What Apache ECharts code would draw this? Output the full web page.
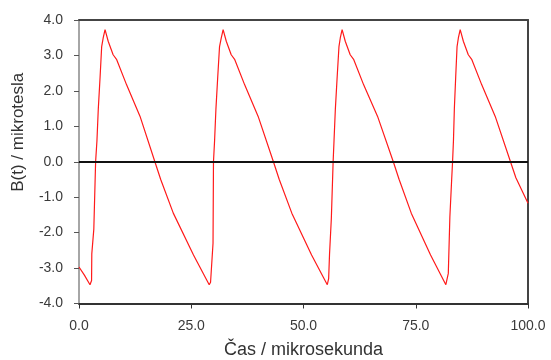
<!DOCTYPE html>
<html>
<head>
<meta charset="utf-8">
<script src="https://cdn.jsdelivr.net/npm/echarts@6/dist/echarts.min.js"></script>
<style>
	html, body { margin: 0; padding: 0; background: #fff; }
	#main { width: 551px; height: 360px; }
</style>
</head>
<body>
<div id="main"></div>
<script>
// cas v mikrosekundach
var time = [
	0, 1.2, 2.45,
	2.8, 2.85, 3.3, 3.7, 4.0, 4.3, 4.7, 5.05, 5.4, 5.8,
	6.5, 7.6, 8.4, 10.6, 13.6, 16.9, 18.2, 21.0, 25.5, 29.0,
	29.3, 29.85, 29.95, 30.2, 30.5, 30.9, 31.3, 31.7, 32.1,
	32.8, 33.9, 34.7, 36.9, 39.9, 43.3, 44.6, 47.4, 51.8, 55.3,
	55.6, 55.8, 56.2, 56.6, 56.8, 57.1, 57.5, 57.9, 58.2, 58.6,
	59.3, 60.4, 61.2, 63.4, 66.5, 70.0, 71.3, 74.0, 78.3, 81.7,
	82.25, 82.6, 83.0, 83.2, 83.4, 83.6, 83.9, 84.2, 84.5, 84.9,
	85.6, 86.7, 87.5, 89.7, 92.7, 96.1, 97.3, 100
];
// B(t) v mikrotesla
var field = [
	-2.97, -3.2, -3.47,
	-3.35, -2.6, -1.9, 0, 0.6, 1.5, 2.4, 3.25, 3.5, 3.73,
	3.40, 3.02, 2.88, 2.17, 1.28, 0, -0.5, -1.45, -2.63, -3.47,
	-3.4, -2.3, 0, 0.6, 1.5, 2.4, 3.25, 3.5, 3.73,
	3.40, 3.02, 2.88, 2.17, 1.28, 0, -0.5, -1.45, -2.63, -3.47,
	-3.3, -2.6, -1.6, 0, 0.6, 1.5, 2.4, 3.25, 3.5, 3.73,
	3.40, 3.02, 2.88, 2.17, 1.28, 0, -0.5, -1.45, -2.63, -3.47,
	-3.15, -1.55, -0.5, 0, 0.6, 1.5, 2.4, 3.25, 3.5, 3.73,
	3.40, 3.02, 2.88, 2.17, 1.28, 0, -0.45, -1.17
];
var xTicks = [0, 25, 50, 75, 100];
var yTicks = [-4, -3, -2, -1, 0, 1, 2, 3, 4];

var font = 'Liberation Sans, Arial, sans-serif';
var points = [];
for (var i = 0; i < time.length; i++) {
	points.push([time[i], field[i]]);
}

var chart = echarts.init(document.getElementById('main'));
var option = {
	backgroundColor: '#fff',
	animation: false,
	grid: { left: 79, right: 23, top: 20, bottom: 56.5, outerBoundsMode: 'none' },
	xAxis: [
		{
			type: 'value',
			position: 'bottom',
			min: xTicks[0],
			max: xTicks[xTicks.length - 1],
			interval: xTicks[1] - xTicks[0],
			name: 'Čas / mikrosekunda',
			nameLocation: 'middle',
			nameGap: 38,
			nameTextStyle: { color: '#333', fontFamily: font, fontSize: 18 },
			axisLine: { onZero: false, lineStyle: { color: '#333', width: 2 } },
			axisTick: { show: true, length: 5, lineStyle: { color: '#333', width: 1 } },
			axisLabel: {
				color: '#3a3a3a', fontFamily: font, fontSize: 14, margin: 16,
				formatter: function (v) { return v.toFixed(1); }
			},
			splitLine: { show: false }
		},
		{
			type: 'value',
			position: 'top',
			min: xTicks[0],
			max: xTicks[xTicks.length - 1],
			axisLine: { onZero: false, lineStyle: { color: '#444', width: 2 } },
			axisTick: { show: false },
			axisLabel: { show: false },
			splitLine: { show: false }
		}
	],
	yAxis: [
		{
			type: 'value',
			position: 'left',
			min: yTicks[0],
			max: yTicks[yTicks.length - 1],
			interval: 1,
			name: 'B(t) / mikrotesla',
			nameLocation: 'middle',
			nameGap: 52,
			nameTextStyle: { color: '#333', fontFamily: font, fontSize: 17, padding: [0, 0, 0, 59] },
			axisLine: { onZero: false, lineStyle: { color: '#888', width: 1.5 } },
			axisTick: { show: true, length: 5, lineStyle: { color: '#555', width: 1 } },
			axisLabel: {
				color: '#3a3a3a', fontFamily: font, fontSize: 14, margin: 16,
				formatter: function (v) { return v.toFixed(1); }
			},
			splitLine: { show: false }
		},
		{
			type: 'value',
			position: 'right',
			min: yTicks[0],
			max: yTicks[yTicks.length - 1],
			axisLine: { show: true, onZero: false, lineStyle: { color: '#444', width: 2 } },
			axisTick: { show: false },
			axisLabel: { show: false },
			splitLine: { show: false }
		}
	],
	series: [
		{
			type: 'line',
			data: points,
			symbol: 'none',
			smooth: false,
			lineStyle: { color: '#ff1a1a', width: 1.2 },
			markLine: {
				silent: true,
				symbol: 'none',
				label: { show: false },
				lineStyle: { color: '#111', width: 2, type: 'solid' },
				data: [{ yAxis: 0 }]
			}
		}
	]
};
chart.setOption(option);
</script>
</body>
</html>
